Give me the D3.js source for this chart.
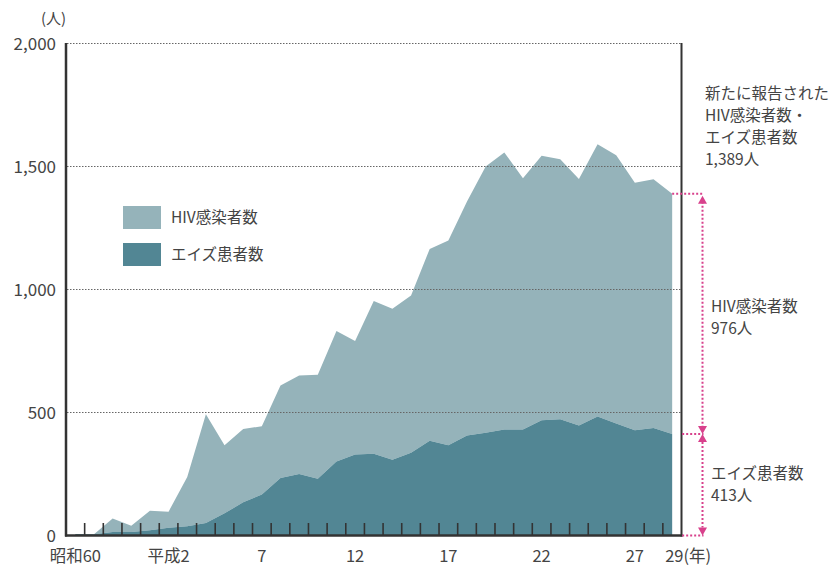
<!DOCTYPE html>
<html><head><meta charset="utf-8">
<script src="https://cdn.jsdelivr.net/npm/d3@7"></script>
<style>
body{margin:0;background:#fff;}
text{font-family:"Noto Sans CJK JP","Noto Sans",sans-serif;fill:#444;}
</style></head>
<body><svg id="c" width="835" height="568"></svg>
<script>
const years = d3.range(1985, 2018);
const hiv  = [0,0,55,26,80,66,200,442,277,298,277,376,400,422,530,462,621,614,640,780,832,952,1082,1126,1021,1075,1056,1002,1106,1091,1006,1011,976];
const aids = [6,5,14,14,21,31,38,51,90,135,167,234,250,231,301,329,332,308,336,385,367,406,418,431,431,469,473,447,484,455,428,437,413];
const yTicks = [0,500,1000,1500,2000];
const xLabels = [{y:1985,t:"昭和60"},{y:1990,t:"平成2"},{y:1995,t:"7"},{y:2000,t:"12"},{y:2005,t:"17"},{y:2010,t:"22"},{y:2015,t:"27"}];
const seriesNames = ["HIV感染者数","エイズ患者数"];
const colors = {hiv:"#95b3ba", aids:"#528694"};
const pink = "#d8418c";

const svg = d3.select("#c");
const x = d3.scaleLinear().domain([1984.5, 2017.5]).range([66, 681.5]);
const y = d3.scaleLinear().domain([0, 2000]).range([535.5, 43.5]);

const data = years.map((yr,i)=>({year:yr, aids:aids[i], hiv:hiv[i]}));
const stack = d3.stack().keys(["aids","hiv"])(data);
const area = d3.area().x(d=>x(d.data.year)).y0(d=>y(d[0])).y1(d=>y(d[1]));

svg.append("path").datum(stack[1]).attr("d", area).attr("fill", colors.hiv);
svg.append("path").datum(stack[0]).attr("d", area).attr("fill", colors.aids);

svg.selectAll(".grid").data(yTicks.filter(v=>v>0)).join("line")
  .attr("x1", 67).attr("x2", 681).attr("y1", d=>y(d)).attr("y2", d=>y(d))
  .attr("stroke","#666").attr("stroke-width",1).attr("stroke-dasharray","1.5,1.5");

svg.selectAll(".yl").data(yTicks).join("text")
  .attr("x", 56).attr("y", d=>y(d)).attr("dy","0.36em").attr("text-anchor","end")
  .attr("font-size",17).text(d=>d3.format(",")(d));
svg.append("text").attr("x",41).attr("y",24).attr("font-size",15).text("(人)");

const tickPos = d3.range(1985, 2017).map(v=>v+0.5);
svg.selectAll(".xt").data(tickPos).join("line")
  .attr("x1", d=>x(d)).attr("x2", d=>x(d)).attr("y1", 523).attr("y2", 535)
  .attr("stroke","#333").attr("stroke-width",1.6);

svg.append("line").attr("x1",66).attr("x2",66).attr("y1",43).attr("y2",536.5).attr("stroke","#333").attr("stroke-width",2.5);
svg.append("line").attr("x1",65).attr("x2",682.5).attr("y1",535.5).attr("y2",535.5).attr("stroke","#333").attr("stroke-width",2.5);
svg.append("line").attr("x1",681.5).attr("x2",681.5).attr("y1",43).attr("y2",536.5).attr("stroke","#333").attr("stroke-width",2);

svg.selectAll(".xl").data(xLabels).join("text")
  .attr("x", d=>x(d.y)).attr("y", 556).attr("dy","0.36em").attr("text-anchor","middle")
  .attr("font-size",16.5).text(d=>d.t);
svg.append("text").attr("x", x(2017)-7).attr("y",556).attr("dy","0.36em").attr("font-size",16.5).text("29(年)");

const leg = svg.append("g");
[[colors.hiv, seriesNames[0], 206],[colors.aids, seriesNames[1], 243]].forEach(([c,t,yy])=>{
  leg.append("rect").attr("x",123).attr("y",yy).attr("width",38).attr("height",23).attr("fill",c);
  leg.append("text").attr("x",171).attr("y",yy+11.5).attr("dy","0.36em").attr("font-size",15.5).text(t);
});

const last = data[data.length-1];
const total = last.hiv + last.aids;
const ax = 702.5;
const dot = {stroke:pink, "stroke-width":2, "stroke-dasharray":"2,2"};
function dl(x1,y1,x2,y2){const l=svg.append("line").attr("x1",x1).attr("y1",y1).attr("x2",x2).attr("y2",y2);Object.entries(dot).forEach(([k,v])=>l.attr(k,v));}
dl(x(2017), y(total), ax+1, y(total));
dl(x(2017)+10, y(last.aids), ax+1, y(last.aids));
dl(x(2017)+10, y(0), ax+1, y(0));
dl(ax, y(total)+8, ax, y(last.aids)-8);
dl(ax, y(last.aids)+8, ax, y(0)-8);
function tri(tipY, dir){
  const h=8,w=4.5;
  svg.append("path").attr("d",`M${ax},${tipY} L${ax-w},${tipY-dir*h} L${ax+w},${tipY-dir*h} Z`).attr("fill",pink);
}
tri(y(total)+2, -1);
tri(y(last.aids), 1);
tri(y(last.aids), -1);
tri(y(0), 1);

function block(lines, x0, yc0, step){
  lines.forEach((s,i)=>svg.append("text").attr("x",x0).attr("y",yc0+i*step).attr("dy","0.36em").attr("font-size",15.5).text(s));
}
block(["新たに報告された","HIV感染者数・","エイズ患者数", d3.format(",")(total)+"人"], 705, 93, 22);
block([seriesNames[0], last.hiv+"人"], 711, 306, 22);
block([seriesNames[1], last.aids+"人"], 711, 473, 22);
</script></body></html>
